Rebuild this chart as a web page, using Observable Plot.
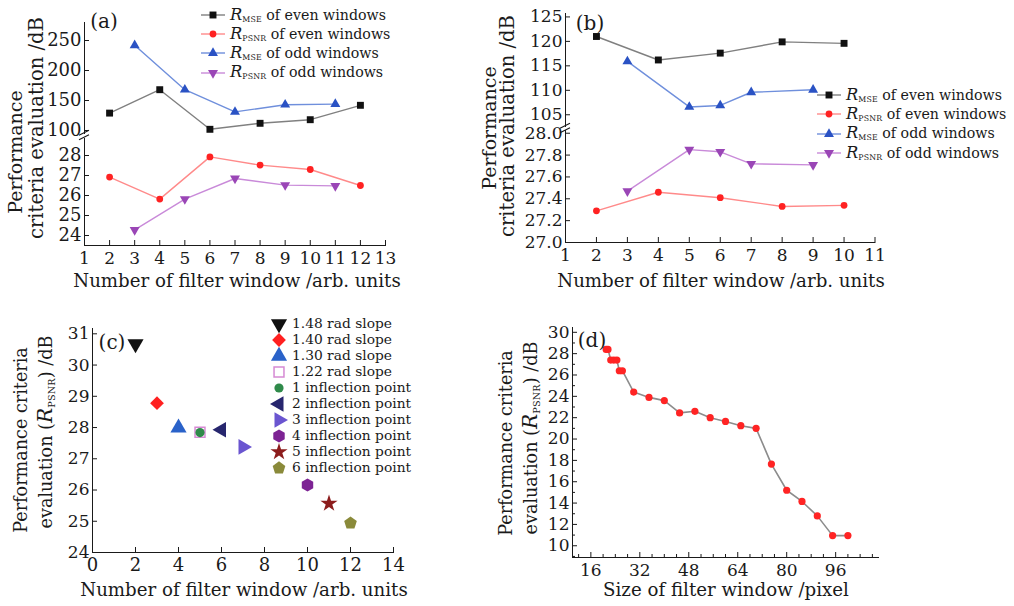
<!DOCTYPE html>
<html><head><meta charset="utf-8">
<script src="https://cdn.jsdelivr.net/npm/d3@7"></script>
<script src="https://cdn.jsdelivr.net/npm/@observablehq/plot@0.6"></script>
<style>
body{margin:0;background:#fff;}
#root{position:relative;width:1014px;height:606px;overflow:hidden;font-family:"DejaVu Serif",serif;color:#1a1a1a;background:#fff;}
.abs{position:absolute;}
.t{position:absolute;white-space:nowrap;line-height:1;}
.lg{position:absolute;white-space:nowrap;line-height:1;display:flex;align-items:center;}
sub{font-size:0.55em;vertical-align:-0.3em;line-height:0;letter-spacing:0.02em}
i.R{font-size:1.15em}
</style></head><body><div id="root"></div>
<script>
// ---------- DATA ----------
// Panel (a)
const aXTicks = [1,2,3,4,5,6,7,8,9,10,11,12,13];
const aTopTicks = [100,150,200,250];
const aBotTicks = [24,25,26,27,28];
const aEvenX = [2,4,6,8,10,12];
const aEvenMSE = [129,168,102,112,118,142];
const aEvenPSNR = [26.92,25.82,27.93,27.52,27.30,26.50];
const aOddX = [3,5,7,9,11];
const aOddMSE = [242,168,131,143,144];
const aOddPSNR = [24.28,25.82,26.85,26.52,26.48];
// Panel (b)
const bXTicks = [1,2,3,4,5,6,7,8,9,10,11];
const bTopTicks = [105,110,115,120,125];
const bBotTicks = [27.0,27.2,27.4,27.6,27.8,28.0];
const bEvenX = [2,4,6,8,10];
const bEvenMSE = [121.0,116.2,117.6,119.9,119.6];
const bEvenPSNR = [27.29,27.46,27.41,27.33,27.34];
const bOddX = [3,5,6,7,9];
const bOddMSE = [115.9,106.6,106.9,109.6,110.1];
const bOddPSNR = [27.47,27.85,27.83,27.72,27.71];
// Panel (c)
const cXTicks = [0,2,4,6,8,10,12,14];
const cYTicks = [24,25,26,27,28,29,30,31];
const cLabels = ["1.48 rad slope","1.40 rad slope","1.30 rad slope","1.22 rad slope","1 inflection point","2 inflection point","3 inflection point","4 inflection point","5 inflection point","6 inflection point"];
const cX = [2,3,4,5,5,6,7,10,11,12];
const cY = [30.68,28.78,27.99,27.85,27.84,27.93,27.38,26.16,25.57,24.94];
// Panel (d)
const dXTicks = [16,32,48,64,80,96];
const dYTicks = [10,12,14,16,18,20,22,24,26,28,30];
const dX = [21,21.6,22.5,23.5,24.5,25.3,26.3,30,35,40,45,50,55,60,65,70,75,80,85,90,95,100];
const dY = [28.4,28.4,27.4,27.4,27.4,26.4,26.4,24.4,23.9,23.6,22.45,22.6,22.0,21.65,21.25,21.0,17.65,15.2,14.15,12.8,10.95,10.95];

// ---------- STYLE ----------
const FONT = '"DejaVu Serif", serif';
const INK = '#1a1a1a';
const S = {
  evenMSE:  {line:'#808080', mark:'#111111', sym:'square', rot:0, r:3.9},
  evenPSNR: {line:'#ff8a8a', mark:'#ff2222', sym:'circle', rot:0, r:3.4},
  oddMSE:   {line:'#6f8fdc', mark:'#2a52c4', sym:'triangle', rot:0, r:3.7},
  oddPSNR:  {line:'#c98ad9', mark:'#9a46b6', sym:'triangle', rot:180, r:3.7}
};
const hexagon = {draw(ctx, size){const r=Math.sqrt(size/(1.5*Math.sqrt(3)));for(let k=0;k<6;k++){const a=-Math.PI/2+k*Math.PI/3;const px=r*Math.cos(a),py=r*Math.sin(a);k?ctx.lineTo(px,py):ctx.moveTo(px,py);}ctx.closePath();}};
const pentagon = {draw(ctx, size){const r=Math.sqrt(size/(2.5*Math.sin(2*Math.PI/5)));for(let k=0;k<5;k++){const a=-Math.PI/2+k*2*Math.PI/5;const px=r*Math.cos(a),py=r*Math.sin(a);k?ctx.lineTo(px,py):ctx.moveTo(px,py);}ctx.closePath();}};
const cStyle = [
  {sym:'triangle', rot:180, fill:'#111111', r:6},
  {sym:'diamond2', rot:0, fill:'#ff2020', r:6.2},
  {sym:'triangle', rot:0, fill:'#2a62c9', r:6},
  {sym:'square', rot:0, fill:'none', stroke:'#d68ad4', r:5.6},
  {sym:'circle', rot:0, fill:'#2f8a4a', r:4.6},
  {sym:'triangle', rot:-90, fill:'#27266e', r:5.8},
  {sym:'triangle', rot:90, fill:'#6a55d0', r:5.8},
  {sym:hexagon, rot:0, fill:'#7d2394', r:6},
  {sym:'star', rot:0, fill:'#8c1c1c', r:5.4},
  {sym:pentagon, rot:0, fill:'#8a8a3a', r:5.8}
];
const symMap = {square:d3.symbolSquare, circle:d3.symbolCircle, triangle:d3.symbolTriangle, diamond2:d3.symbolDiamond2, star:d3.symbolStar};

const root = document.getElementById('root');
function place(el, left, top){const w=document.createElement('div');w.className='abs';w.style.left=left+'px';w.style.top=top+'px';w.appendChild(el);root.appendChild(w);}
function txt(html, cx, cy, size, rot){const d=document.createElement('div');d.className='t';d.innerHTML=html;d.style.fontSize=size+'px';d.style.left=cx+'px';d.style.top=cy+'px';d.style.transform='translate(-50%,-50%)'+(rot?' rotate(-90deg)':'');root.appendChild(d);}
function symPath(sym, r){return d3.symbol().type(typeof sym==='string'?symMap[sym]:sym).size(Math.PI*r*r)();}
function legendLine(x, y, st, html, size){
  const d=document.createElement('div');d.className='lg';d.style.left=x+'px';d.style.top=(y-9)+'px';d.style.height='18px';d.style.fontSize=size+'px';
  d.innerHTML=`<svg width="26" height="18" style="margin-right:3px"><line x1="0" x2="24" y1="9" y2="9" stroke="${st.line}" stroke-width="1.4"/><path d="${symPath(st.sym,st.r)}" transform="translate(12,9) rotate(${st.rot})" fill="${st.mark}"/></svg><span>${html}</span>`;
  root.appendChild(d);
}
function legendSym(x, y, st, html, size){
  const d=document.createElement('div');d.className='lg';d.style.left=(x-9)+'px';d.style.top=(y-9)+'px';d.style.height='18px';d.style.fontSize=size+'px';
  d.innerHTML=`<svg width="18" height="18" style="margin-right:4px"><path d="${symPath(st.sym,st.r)}" transform="translate(9,9) rotate(${st.rot})" fill="${st.fill}" stroke="${st.stroke||'none'}" stroke-width="1.5"/></svg><span>${html}</span>`;
  root.appendChild(d);
}
function breakMark(x, y1, y2){
  const ns='http://www.w3.org/2000/svg';const s=document.createElementNS(ns,'svg');
  s.setAttribute('width',20);s.setAttribute('height',20);s.style.position='absolute';s.style.left=(x-10)+'px';s.style.top=((y1+y2)/2-10)+'px';
  const off=(y2-y1)/2;
  s.innerHTML=`<path d="M5,${10-off+2.5} L15,${10-off-2.5} M5,${10+off+2.5} L15,${10+off-2.5}" stroke="${INK}" stroke-width="1.2" fill="none"/>`;
  root.appendChild(s);
}
const baseStyle = {fontFamily:FONT, fontSize:'17px', color:INK, background:'transparent', overflow:'visible'};
const yAx = (ticks, fs, fmt) => Plot.axisY(ticks, {tickSize:-5, tickPadding:8, fontSize:fs, tickFormat:fmt||(d=>String(d)), stroke:INK, fill:INK});
const xAx = (ticks, fs, fmt) => Plot.axisX(ticks, {tickSize:-5, tickPadding:11, fontSize:fs, tickFormat:fmt||(d=>String(d)), stroke:INK, fill:INK});
const minorX = ticks => Plot.axisX(ticks, {tickSize:-3, tickFormat:()=>'', stroke:INK});
const minorY = ticks => Plot.axisY(ticks, {tickSize:-3, tickFormat:()=>'', stroke:INK});
function series(xs, ys, st){
  return [
    Plot.line(ys, {x:xs, y:ys, stroke:st.line, strokeWidth:1.4}),
    Plot.dot(ys, {x:xs, y:ys, symbol:st.sym, rotate:st.rot, fill:st.mark, r:st.r})
  ];
}

// ---------- PANEL (a) ----------
place(Plot.plot({
  width:400, height:134, marginLeft:84, marginRight:15, marginTop:22, marginBottom:1,
  style:baseStyle,
  x:{domain:[1,13], axis:null}, y:{domain:[95,280], axis:null},
  marks:[
    Plot.frame({anchor:'left', stroke:INK}),
    yAx(aTopTicks, 18),
    ...series(aEvenX, aEvenMSE, S.evenMSE),
    ...series(aOddX, aOddMSE, S.oddMSE)
  ]
}), 0, 0);
place(Plot.plot({
  width:400, height:139, marginLeft:84, marginRight:15, marginTop:2, marginBottom:30,
  style:baseStyle,
  x:{domain:[1,13], axis:null}, y:{domain:[23.5,28.85], axis:null},
  marks:[
    Plot.frame({anchor:'left', stroke:INK}),
    Plot.frame({anchor:'bottom', stroke:INK}),
    yAx(aBotTicks, 18),
    xAx(aXTicks, 17),
    ...series(aEvenX, aEvenPSNR, S.evenPSNR),
    ...series(aOddX, aOddPSNR, S.oddPSNR)
  ]
}), 0, 136);
breakMark(84, 133, 137.5);

// ---------- PANEL (b) ----------
place(Plot.plot({
  width:390, height:127, marginLeft:65, marginRight:15.5, marginTop:13, marginBottom:1,
  style:baseStyle,
  x:{domain:[1,11], axis:null}, y:{domain:[102.6,125.7], axis:null},
  marks:[
    Plot.frame({anchor:'left', stroke:INK}),
    yAx(bTopTicks, 17),
    ...series(bEvenX, bEvenMSE, S.evenMSE),
    ...series(bOddX, bOddMSE, S.oddMSE)
  ]
}), 500, 0);
place(Plot.plot({
  width:390, height:145, marginLeft:65, marginRight:15.5, marginTop:3, marginBottom:30,
  style:baseStyle,
  x:{domain:[1,11], axis:null}, y:{domain:[27.0,28.025], axis:null},
  marks:[
    Plot.frame({anchor:'left', stroke:INK}),
    Plot.frame({anchor:'bottom', stroke:INK}),
    yAx(bBotTicks, 17, d=>d.toFixed(1)),
    xAx(bXTicks, 17),
    ...series(bEvenX, bEvenPSNR, S.evenPSNR),
    ...series(bOddX, bOddPSNR, S.oddPSNR)
  ]
}), 500, 127);
breakMark(565, 126, 130.5);

// ---------- PANEL (c) ----------
place(Plot.plot({
  width:410, height:262, marginLeft:92, marginRight:17, marginTop:8, marginBottom:30,
  style:baseStyle,
  x:{domain:[0,14], axis:null}, y:{domain:[24,31.17], axis:null},
  marks:[
    Plot.frame({anchor:'left', stroke:INK}),
    Plot.frame({anchor:'bottom', stroke:INK}),
    yAx(cYTicks, 17),
    xAx(cXTicks, 18),
    ...cLabels.map((lab,i)=>Plot.dot([i], {x:j=>cX[j], y:j=>cY[j], symbol:cStyle[i].sym, rotate:cStyle[i].rot, fill:cStyle[i].fill, stroke:cStyle[i].stroke||'none', strokeWidth:1.5, r:cStyle[i].r, title:()=>lab}))
  ]
}), 0, 320);

// ---------- PANEL (d) ----------
place(Plot.plot({
  width:388, height:269, marginLeft:72, marginRight:10, marginTop:9, marginBottom:30,
  style:baseStyle,
  x:{domain:[10,110], axis:null}, y:{domain:[8.9,30.45], axis:null},
  marks:[
    Plot.frame({anchor:'left', stroke:INK}),
    Plot.frame({anchor:'bottom', stroke:INK}),
    minorX(d3.range(12,110,4).filter(v=>v%16!==0)),
    minorY(d3.range(9,31,1).filter(v=>v%2!==0)),
    yAx(dYTicks, 17),
    xAx(dXTicks, 17),
    Plot.line(dY, {x:dX, y:dY, stroke:'#8c8c8c', strokeWidth:1.6}),
    Plot.dot(dY, {x:dX, y:dY, fill:'#ff2424', r:3.6})
  ]
}), 500, 318);

// ---------- TEXT ----------
txt('(a)', 104, 21, 20); txt('(b)', 590, 23, 20); txt('(c)', 112, 342, 20); txt('(d)', 592, 340, 20);
// axis titles
txt('Number of filter window /arb. units', 237, 281, 18.2);
txt('Number of filter window /arb. units', 721, 281, 18.2);
txt('Number of filter window /arb. units', 244, 590, 18.2);
txt('Size of filter window /pixel', 726, 590, 18.2);
txt('Performance', 15, 152, 19, true);
txt('criteria evaluation /dB', 37, 128, 19.5, true);
txt('Performance', 489, 128, 19, true);
txt('criteria evaluation /dB', 508, 126, 19.5, true);
txt('Performance criteria', 22, 440, 17.6, true);
txt('evaluation (<i class="R">R</i><sub>PSNR</sub>) /dB', 45, 432, 17.6, true);
txt('Performance criteria', 507, 443, 17.6, true);
txt('evaluation (<i class="R">R</i><sub>PSNR</sub>) /dB', 530, 438, 17.6, true);
// legends
const legA = [[S.evenMSE,'<i class="R">R</i><sub>MSE</sub> of even windows'],[S.evenPSNR,'<i class="R">R</i><sub>PSNR</sub> of even windows'],[S.oddMSE,'<i class="R">R</i><sub>MSE</sub> of odd windows'],[S.oddPSNR,'<i class="R">R</i><sub>PSNR</sub> of odd windows']];
legA.forEach(([st,h],i)=>legendLine(201, 15+i*19.2, st, h, 14.2));
legA.forEach(([st,h],i)=>legendLine(817, 95+i*19.3, st, h, 14.2));
cLabels.forEach((lab,i)=>legendSym(279, 324+i*16, cStyle[i], lab, 13.8));
</script></body></html>
